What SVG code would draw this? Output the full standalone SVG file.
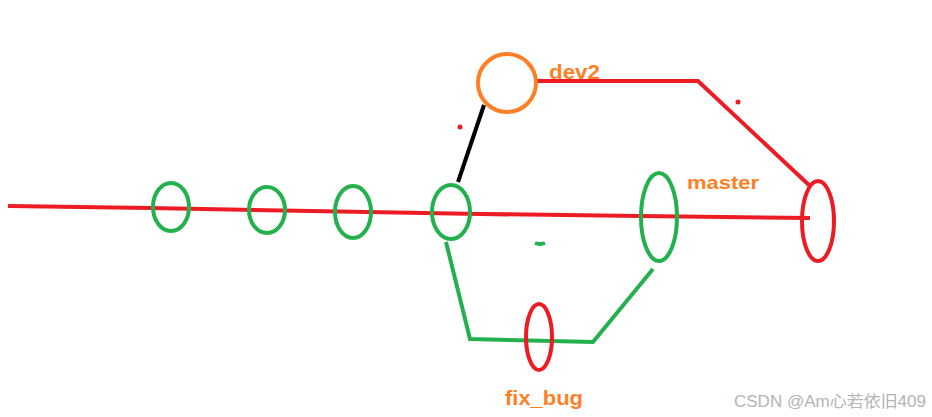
<svg xmlns="http://www.w3.org/2000/svg" width="932" height="417" viewBox="0 0 932 417">
<style>
.g{fill:none;stroke:#22B14C;stroke-width:4}
.r{fill:none;stroke:#ED1C24;stroke-width:4}
.o{fill:none;stroke:#FF7F27;stroke-width:4}
.k{fill:none;stroke:#000;stroke-width:4}
.lbl{font-family:"Liberation Sans",Arial,sans-serif;font-weight:bold;fill:#FF7F27}
.wm{font-family:"Liberation Sans","Noto Sans CJK SC",sans-serif;fill:#B4B4B4;font-size:16px}
</style>
<rect width="932" height="417" fill="#fff"/>
<g id="connectors">
<polyline class="r" points="8,206 150,208 480,214 640,216 810,218"/>
<polyline class="r" points="537,81 698,81 810,186"/>
<line class="k" x1="458" y1="182" x2="484" y2="105"/>
<polyline class="g" points="446,242 470,339 593,342 653,269"/>
<path class="g" d="M535,243 Q540,245 545,243" stroke-width="2"/>
<circle cx="460" cy="127" r="2.5" fill="#ED1C24"/>
<circle cx="738" cy="102" r="2.5" fill="#ED1C24"/>
</g>
<g id="c1"><ellipse class="g" cx="171" cy="207" rx="18" ry="24"/></g>
<g id="c2"><ellipse class="g" cx="267" cy="210" rx="18" ry="23"/></g>
<g id="c3"><ellipse class="g" cx="353" cy="212" rx="18" ry="26"/></g>
<g id="c4"><ellipse class="g" cx="451" cy="212" rx="19" ry="27"/></g>
<g id="master"><ellipse class="g" cx="659" cy="217" rx="18" ry="44"/><text class="lbl" x="687" y="189" font-size="19" textLength="72" lengthAdjust="spacingAndGlyphs">master</text></g>
<g id="merge"><ellipse class="r" cx="818" cy="221" rx="16" ry="40"/></g>
<g id="dev2"><circle class="o" cx="507" cy="83" r="29"/><text class="lbl" x="549" y="79" font-size="20" textLength="51" lengthAdjust="spacingAndGlyphs">dev2</text></g>
<g id="fix_bug"><ellipse class="r" cx="539" cy="337" rx="13" ry="33"/><text class="lbl" x="505" y="405" font-size="20" textLength="78" lengthAdjust="spacingAndGlyphs">fix_bug</text></g>
<text class="wm" x="734" y="407" textLength="192" lengthAdjust="spacingAndGlyphs">CSDN @Am心若依旧409</text>
</svg>
